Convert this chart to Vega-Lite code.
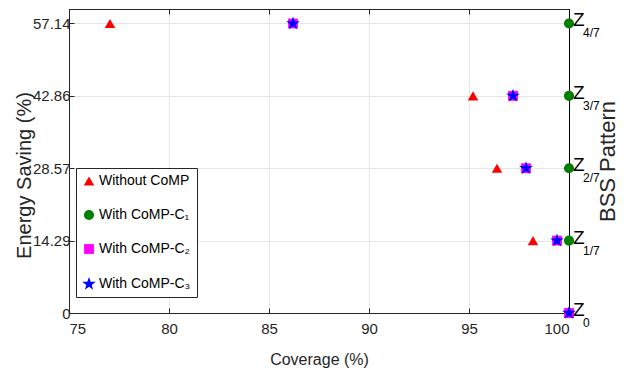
{
  "$schema": "https://vega.github.io/schema/vega-lite/v6.json",
  "width": 500,
  "height": 304,
  "autosize": {"type": "none"},
  "padding": {"left": 69, "top": 9, "right": 61, "bottom": 60},
  "background": "white",
  "config": {
    "font": "Liberation Sans",
    "view": {"stroke": "#262626", "strokeWidth": 1},
    "axis": {
      "labelFont": "Liberation Sans",
      "titleFont": "Liberation Sans",
      "labelColor": "#262626",
      "titleColor": "#262626",
      "titleFontWeight": "normal",
      "domainColor": "#262626",
      "tickColor": "#262626",
      "gridColor": "#e6e6e6",
      "gridOpacity": 1
    }
  },
  "datasets": {
    "points": [
      {"coverage": 77.05, "saving": 57.14, "series": "Without CoMP"},
      {"coverage": 95.2, "saving": 42.86, "series": "Without CoMP"},
      {"coverage": 96.4, "saving": 28.57, "series": "Without CoMP"},
      {"coverage": 98.2, "saving": 14.29, "series": "Without CoMP"},
      {"coverage": 100, "saving": 0, "series": "Without CoMP"},
      {"coverage": 100, "saving": 57.14, "series": "With CoMP-C₁"},
      {"coverage": 100, "saving": 42.86, "series": "With CoMP-C₁"},
      {"coverage": 100, "saving": 28.57, "series": "With CoMP-C₁"},
      {"coverage": 100, "saving": 14.29, "series": "With CoMP-C₁"},
      {"coverage": 100, "saving": 0, "series": "With CoMP-C₁"},
      {"coverage": 86.2, "saving": 57.14, "series": "With CoMP-C₂"},
      {"coverage": 97.2, "saving": 42.86, "series": "With CoMP-C₂"},
      {"coverage": 97.85, "saving": 28.57, "series": "With CoMP-C₂"},
      {"coverage": 99.4, "saving": 14.29, "series": "With CoMP-C₂"},
      {"coverage": 100, "saving": 0, "series": "With CoMP-C₂"},
      {"coverage": 86.2, "saving": 57.14, "series": "With CoMP-C₃"},
      {"coverage": 97.2, "saving": 42.86, "series": "With CoMP-C₃"},
      {"coverage": 97.85, "saving": 28.57, "series": "With CoMP-C₃"},
      {"coverage": 99.4, "saving": 14.29, "series": "With CoMP-C₃"},
      {"coverage": 100, "saving": 0, "series": "With CoMP-C₃"}
    ],
    "levels": [
      {"coverage": 100, "saving": 0, "sub": "0"},
      {"coverage": 100, "saving": 14.29, "sub": "1/7"},
      {"coverage": 100, "saving": 28.57, "sub": "2/7"},
      {"coverage": 100, "saving": 42.86, "sub": "3/7"},
      {"coverage": 100, "saving": 57.14, "sub": "4/7"}
    ]
  },
  "resolve": {"scale": {"x": "independent", "y": "independent"}},
  "layer": [
    {
      "data": {"name": "points"},
      "mark": {"type": "point", "filled": true, "opacity": 1},
      "encoding": {
        "x": {
          "field": "coverage",
          "type": "quantitative",
          "scale": {"domain": [75, 100], "nice": false, "zero": false},
          "axis": {
            "orient": "bottom",
            "values": [75, 80, 85, 90, 95, 100],
            "grid": true,
            "tickSize": -5,
            "labelFontSize": 15,
            "labelPadding": 13,
            "title": "Coverage (%)",
            "titleFontSize": 16,
            "titleBaseline": "alphabetic",
            "titleX": 250,
            "titleY": 51
          }
        },
        "y": {
          "field": "saving",
          "type": "quantitative",
          "scale": {"domain": [0, 60], "nice": false, "zero": false},
          "axis": {
            "orient": "left",
            "values": [0, 14.29, 28.57, 42.86, 57.14],
            "format": ".2~f",
            "grid": true,
            "tickSize": -5,
            "labelFontSize": 15,
            "labelPadding": 4,
            "title": "Energy Saving (%)",
            "titleFontSize": 20,
            "titleAngle": 270,
            "titleBaseline": "alphabetic",
            "titleAlign": "center",
            "titleX": -39,
            "titleY": 166
          }
        },
        "color": {
          "field": "series",
          "type": "nominal",
          "scale": {
            "domain": ["Without CoMP", "With CoMP-C₁", "With CoMP-C₂", "With CoMP-C₃"],
            "range": ["#ff0000", "#007f00", "#ff00ff", "#0000ff"]
          },
          "legend": {
            "title": null,
            "orient": "none",
            "legendX": 7,
            "legendY": 159,
            "padding": 6,
            "rowPadding": 20,
            "labelFont": "Liberation Sans",
            "labelFontSize": 14,
            "labelColor": "#000000",
            "labelOffset": 3,
            "fillColor": "white",
            "strokeColor": "#262626"
          }
        },
        "shape": {
          "field": "series",
          "type": "nominal",
          "scale": {
            "domain": ["Without CoMP", "With CoMP-C₁", "With CoMP-C₂", "With CoMP-C₃"],
            "range": ["triangle-up", "circle", "square", "M0,-1.5L0.35,-0.49L1.43,-0.46L0.57,0.19L0.88,1.21L0,0.6L-0.88,1.21L-0.57,0.19L-1.43,-0.46L-0.35,-0.49Z"]
          }
        },
        "size": {
          "field": "series",
          "type": "nominal",
          "scale": {
            "domain": ["Without CoMP", "With CoMP-C₁", "With CoMP-C₂", "With CoMP-C₃"],
            "range": [110, 90, 45, 120]
          }
        }
      }
    },
    {
      "data": {"name": "levels"},
      "mark": {"type": "text", "text": "Z", "align": "left", "baseline": "middle", "dx": 4, "dy": -3, "fontSize": 19, "color": "#000000"},
      "encoding": {
        "x": {
          "field": "coverage",
          "type": "quantitative",
          "scale": {"domain": [75, 100], "nice": false, "zero": false},
          "axis": {"orient": "top", "values": [75, 80, 85, 90, 95, 100], "labels": false, "grid": false, "tickSize": -5, "title": null}
        },
        "y": {
          "field": "saving",
          "type": "quantitative",
          "scale": {"domain": [0, 60], "nice": false, "zero": false},
          "axis": {
            "orient": "right",
            "values": [0, 14.29, 28.57, 42.86, 57.14],
            "labels": false,
            "grid": false,
            "tickSize": 4,
            "domainColor": "#000000",
            "tickColor": "#000000",
            "title": "BSS Pattern",
            "titleFontSize": 22,
            "titleAngle": 270,
            "titleBaseline": "alphabetic",
            "titleAlign": "center",
            "titleX": 45,
            "titleY": 152
          }
        }
      }
    },
    {
      "data": {"name": "levels"},
      "mark": {"type": "text", "align": "left", "baseline": "middle", "dx": 14, "dy": 10, "fontSize": 12, "color": "#000000"},
      "encoding": {
        "x": {"field": "coverage", "type": "quantitative", "scale": {"domain": [75, 100], "nice": false, "zero": false}, "axis": null},
        "y": {"field": "saving", "type": "quantitative", "scale": {"domain": [0, 60], "nice": false, "zero": false}, "axis": null},
        "text": {"field": "sub"}
      }
    }
  ]
}
